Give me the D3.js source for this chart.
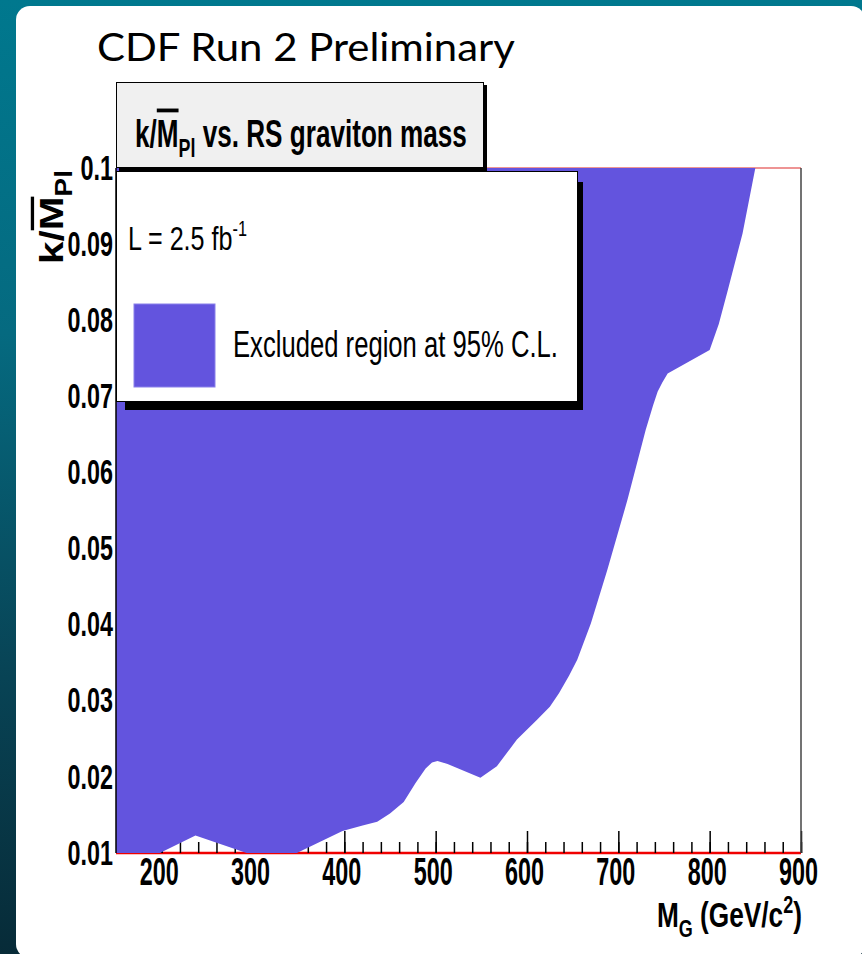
<!DOCTYPE html>
<meta charset="utf-8">
<head>
  <title>k/M vs RS graviton mass</title>
</head>
<style>
body { margin: 0; }
text { font-family: "Liberation Sans", Arial, sans-serif; }
.tick text { font-weight: bold; fill: #000; }
</style>
<body>
<script src="https://d3js.org/d3.v7.min.js"></script>
<script>

// exclusion contour (mass in GeV/c^2, k/Mpl)
var boundaryMass = [150, 198, 237, 293, 348, 398, 420, 436, 450, 465, 478, 489, 496, 502, 513, 549, 567, 589,
                    611, 625, 635, 646, 655, 670, 688, 710, 730, 738, 743, 748, 754, 800, 810, 820, 836, 850];
var boundaryK    = [0.01, 0.01, 0.0123, 0.01, 0.01, 0.0129, 0.0136, 0.0141, 0.0152, 0.0167, 0.0192, 0.0211, 0.0219, 0.0221, 0.0217, 0.0199, 0.0214, 0.0249,
                    0.0275, 0.0292, 0.0310, 0.0333, 0.0354, 0.0402, 0.0472, 0.0564, 0.0656, 0.0688, 0.0706, 0.0718, 0.073, 0.0761, 0.0795, 0.084, 0.0914, 0.1];

var xMajorTicks = [200, 300, 400, 500, 600, 700, 800, 900];
var xMinorTicks = d3.range(160, 901, 20);
var yTicks = [0.01, 0.02, 0.03, 0.04, 0.05, 0.06, 0.07, 0.08, 0.09, 0.1];
var yTickLabels = ["0.01", "0.02", "0.03", "0.04", "0.05", "0.06", "0.07", "0.08", "0.09", "0.1"];

var W = 862, H = 954;
var fillColor = "#6354de";

var svg = d3.select("body").append("svg")
    .attr("width", W)
    .attr("height", H);

// slide background
var grad = svg.append("defs").append("linearGradient")
    .attr("id", "bg").attr("x1", 0).attr("y1", 0).attr("x2", 0).attr("y2", 1);
grad.append("stop").attr("offset", "0").attr("stop-color", "#00788e");
grad.append("stop").attr("offset", "0.35").attr("stop-color", "#056a80");
grad.append("stop").attr("offset", "0.7").attr("stop-color", "#084456");
grad.append("stop").attr("offset", "1").attr("stop-color", "#072b38");

svg.append("rect").attr("width", W).attr("height", H).attr("fill", "url(#bg)");
svg.append("rect")
    .attr("x", 16).attr("y", 6)
    .attr("width", 849).attr("height", 952)
    .attr("rx", 14).attr("fill", "#fff");

// squeeze a text horizontally to the width seen in the picture
function fitText(t, w) {
  var len = t.node().getComputedTextLength();
  t.attr("transform", (t.attr("transform") || "") + " scale(" + (w / len) + ",1)");
}

var head = svg.append("g").attr("transform", "translate(97,61)");
var headText = head.append("text")
    .style("font-family", "Lato, 'Open Sans', sans-serif")
    .style("font-size", "39px")
    .attr("fill", "#000")
    .text("CDF Run 2 Preliminary");
fitText(headText, 418);

// scales
var x = d3.scaleLinear().domain([150, 900]).range([116, 801]);
var y = d3.scaleLinear().domain([0.01, 0.1]).range([853, 168]);

// red lines at the edges of the scanned range
[0.01, 0.1].forEach(function(k) {
  svg.append("line")
      .attr("x1", x(150)).attr("x2", x(900))
      .attr("y1", y(k)).attr("y2", y(k))
      .style("stroke", k == 0.01 ? "#f00000" : "#e87070")
      .style("stroke-width", k == 0.01 ? "2.5px" : "1.5px");
});

// x axis ticks (pointing into the frame)
var xAxis = svg.append("g").attr("transform", "translate(0," + y(0.01) + ")");
xAxis.call(d3.axisTop(x).tickValues(xMinorTicks).tickSize(11).tickFormat(""));
xAxis.select(".domain").remove();
var xAxisMaj = svg.append("g").attr("transform", "translate(0," + y(0.01) + ")");
xAxisMaj.call(d3.axisTop(x).tickValues(xMajorTicks).tickSize(22).tickFormat(""));
xAxisMaj.select(".domain").remove();
svg.selectAll(".tick line").style("stroke", "#000").style("stroke-width", "1.5px");

// x tick labels
var xLab = svg.append("g").attr("transform", "translate(-3," + y(0.01) + ")")
    .call(d3.axisBottom(x).tickValues(xMajorTicks).tickSize(0).tickPadding(5).tickFormat(d3.format("d")));
xLab.select(".domain").remove();
xLab.selectAll("text")
    .style("font-size", "38px")
    .attr("textLength", 39)
    .attr("lengthAdjust", "spacingAndGlyphs");

// y tick labels
var yLab = svg.append("g").attr("transform", "translate(" + x(150) + ",0)")
    .call(d3.axisLeft(y).tickValues(yTicks).tickSize(0).tickPadding(3)
      .tickFormat(function(d, i) { return yTickLabels[i]; }));
yLab.select(".domain").remove();
yLab.selectAll("text")
    .style("font-size", "35px")
    .attr("textLength", function(d, i) { return (yTickLabels[i].length - 1) * 12.8 + 7; })
    .attr("lengthAdjust", "spacingAndGlyphs");

// excluded region
var pts = boundaryMass.map(function(m, i) { return [m, boundaryK[i]]; });
var area = d3.area()
    .x(function(d) { return x(d[0]); })
    .y0(y(0.1))
    .y1(function(d) { return y(d[1]); });
svg.append("path")
    .datum(pts)
    .attr("d", area)
    .attr("fill", fillColor);

// frame
svg.append("line")
    .attr("x1", x(150)).attr("x2", x(150)).attr("y1", y(0.1)).attr("y2", y(0.01))
    .style("stroke", "#000").style("stroke-width", "1.5px");
svg.append("line")
    .attr("x1", x(900)).attr("x2", x(900)).attr("y1", y(0.1)).attr("y2", y(0.01))
    .style("stroke", "#444").style("stroke-width", "1.5px");

// axis titles
var xt = svg.append("g").attr("transform", "translate(657,927)");
var xtText = xt.append("text").style("font-size", "35px").style("font-weight", "bold").attr("fill", "#000");
xtText.append("tspan").text("M");
xtText.append("tspan").attr("dy", 10).style("font-size", "24px").text("G");
xtText.append("tspan").attr("dy", -10).text(" (GeV/c");
xtText.append("tspan").attr("dy", -14).style("font-size", "24px").text("2");
xtText.append("tspan").attr("dy", 14).text(")");
fitText(xtText, 145);

var yt = svg.append("g").attr("transform", "translate(63,264) rotate(-90)");
var ytText = yt.append("text").style("font-size", "33px").style("font-weight", "bold").attr("fill", "#000");
ytText.append("tspan").text("k/");
ytText.append("tspan").style("text-decoration", "overline").text("M");
ytText.append("tspan").attr("dy", 9).style("font-size", "23px").text("Pl");
fitText(ytText, 94);

// title box
svg.append("rect")
    .attr("x", 119).attr("y", 85).attr("width", 368).attr("height", 86)
    .attr("fill", "#000");
svg.append("rect")
    .attr("x", 116.5).attr("y", 82.5).attr("width", 367).attr("height", 85)
    .attr("fill", "#f0f0f0").style("stroke", "#000").style("stroke-width", "1px");
var tt = svg.append("g").attr("transform", "translate(135,147)");
var ttText = tt.append("text").style("font-size", "38px").style("font-weight", "bold").attr("fill", "#000");
ttText.append("tspan").text("k/");
ttText.append("tspan").style("text-decoration", "overline").text("M");
ttText.append("tspan").attr("dy", 10).style("font-size", "26px").text("Pl");
ttText.append("tspan").attr("dy", -10).text(" vs. RS graviton mass");
fitText(ttText, 332);

// legend
svg.append("rect")
    .attr("x", 125).attr("y", 182).attr("width", 458).attr("height", 228)
    .attr("fill", "#000");
svg.append("rect")
    .attr("x", 116.5).attr("y", 171.5).attr("width", 461).attr("height", 230)
    .attr("fill", "#fff").style("stroke", "#000").style("stroke-width", "1px");

var lumi = svg.append("g").attr("transform", "translate(128,250)");
var lumiText = lumi.append("text").style("font-size", "34px").attr("fill", "#000");
lumiText.append("tspan").text("L = 2.5 fb");
lumiText.append("tspan").attr("dy", -14).style("font-size", "22px").text("-1");
fitText(lumiText, 119);

svg.append("rect")
    .attr("x", 134).attr("y", 304).attr("width", 81).attr("height", 83)
    .attr("fill", fillColor).style("stroke", "#8a80ea").style("stroke-width", "1px");
var leg = svg.append("g").attr("transform", "translate(233,357)");
var legText = leg.append("text").style("font-size", "36px").attr("fill", "#000")
    .text("Excluded region at 95% C.L.");
fitText(legText, 325);

</script>
</body>
